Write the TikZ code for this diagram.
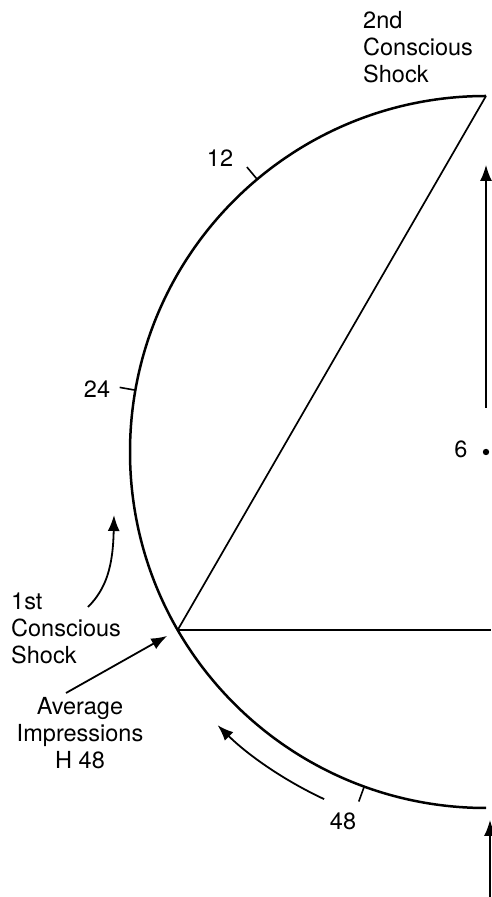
\documentclass[tikz,border=0pt]{standalone}
\usepackage{fontspec}
\setmainfont{TeX Gyre Heros}
\usetikzlibrary{arrows.meta}
\tikzset{arr/.style={-{Latex[length=16pt,width=12pt]}, line width=1.8pt},
  lbl/.style={inner sep=0pt, font=\fontsize{23.5}{27}\selectfont},
  tickmark/.style={line width=1.6pt}}

\begin{document}
\begin{tikzpicture}[x=1pt,y=1pt]
\useasboundingbox (0,0) rectangle (491,897);
% the octave circle, left half
\coordinate (ctr) at (486,445);
\coordinate (top) at ([shift={(90:356pt)}]ctr);
\coordinate (s1) at ([shift={(210:356pt)}]ctr);
\draw[line width=2.5pt] (top) arc[start angle=90, end angle=270, radius=356pt];
\draw[line width=1.7pt] (s1) -- (top);
\coordinate (hend) at (491,267);
\draw[line width=1.7pt] (s1) -- (hend);
% ticks on the circle
\foreach \a in {130,170,250}
  \draw[tickmark] ([shift={(\a:356pt)}]ctr) -- ([shift={(\a:372pt)}]ctr);
\node[lbl] (n12) at (220,739) {12};
\node[lbl] (n24) at (97,508) {24};
\node[lbl] (n48) at (343,76) {48};
% centre point
\fill (ctr) circle (3.2pt);
\node[lbl] (n6) at (461,448) {6};
% shocks
\node[lbl, align=left, anchor=west] (shock2) at (363,850) {2nd\\Conscious\\Shock};
\node[lbl, align=left, anchor=west] (shock1) at (11,269) {1st\\Conscious\\Shock};
\node[lbl, align=center] (avg) at (80,164) {Average\\Impressions\\H 48};
% arrows
\coordinate (upfoot) at (486,489); \coordinate (uphead) at (486,732);
\draw[arr, line width=1.5pt] (upfoot) -- (uphead);
\coordinate (botfoot) at (490,-2); \coordinate (bothead) at (490,77);
\draw[arr, line width=1.5pt] (botfoot) -- (bothead);
\coordinate (c1foot) at (88,290); \coordinate (c1head) at (114,382);
\draw[arr] (c1foot) .. controls (106,308) and (113,330) .. (c1head);
\coordinate (avgfoot) at (66,204);
\draw[arr, shorten >=12pt] (avgfoot) -- (s1);
\draw[arr] ([shift={(245:383pt)}]ctr) arc[start angle=245, end angle=225.5, radius=383pt];
\end{tikzpicture}
\end{document}
